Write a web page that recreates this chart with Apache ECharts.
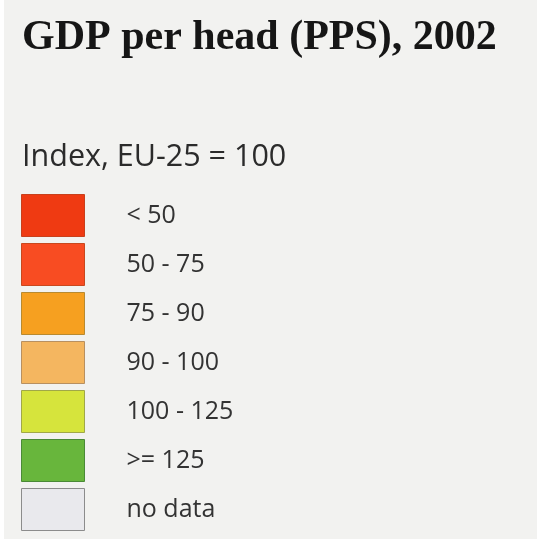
<!DOCTYPE html>
<html>
<head>
<meta charset="utf-8">
<script src="https://cdn.jsdelivr.net/npm/echarts@6/dist/echarts.min.js"></script>
<style>
  html, body { margin: 0; padding: 0; background: #ffffff; }
  #chart { position: absolute; left: 4px; top: 0; width: 533px; height: 539px; }
</style>
</head>
<body>
<div id="chart"></div>
<script>
// Legend classes of the GDP-per-head map (index, EU-25 = 100)
const classLabels = ['< 50', '50 - 75', '75 - 90', '90 - 100', '100 - 125', '>= 125', 'no data'];
const classColors = ['#ef3a12', '#f84c22', '#f6a020', '#f4b660', '#d6e43c', '#68b63c', '#e9e9ed'];
const classBorders = ['#c8401c', '#c8481e', '#b88a30', '#b89060', '#a0a848', '#4a8a36', '#8c8c8c'];

const chart = echarts.init(document.getElementById('chart'));

chart.setOption({
  backgroundColor: '#f2f2f0',
  animation: false,
  title: [
    {
      text: 'GDP per head (PPS), 2002',
      left: 13, top: 12,
      textStyle: { fontFamily: 'Liberation Serif', fontWeight: 'bold', fontSize: 42, color: '#161616' }
    },
    {
      text: 'Index, EU-25 = 100',
      left: 13, top: 137,
      textStyle: { fontFamily: 'Open Sans', fontWeight: 'normal', fontSize: 30.5, color: '#2b2b2b' }
    }
  ],
  legend: {
    orient: 'vertical',
    left: 12, top: 189,
    height: 360,
    itemWidth: 63, itemHeight: 42, itemGap: 6,
    icon: 'rect',
    selectedMode: false,
    textStyle: { fontFamily: 'Open Sans', fontSize: 25, color: '#333333', padding: [0, 0, 0, 37] },
    data: classLabels.map((name, i) => ({
      name,
      itemStyle: { color: classColors[i], borderColor: classBorders[i], borderWidth: 1 }
    }))
  },
  series: [{
    type: 'pie',
    silent: true,
    radius: [0, 0],
    center: [-100, -100],
    label: { show: false },
    data: classLabels.map((name, i) => ({ name, value: 1, itemStyle: { color: classColors[i] } }))
  }]
});
</script>
</body>
</html>
